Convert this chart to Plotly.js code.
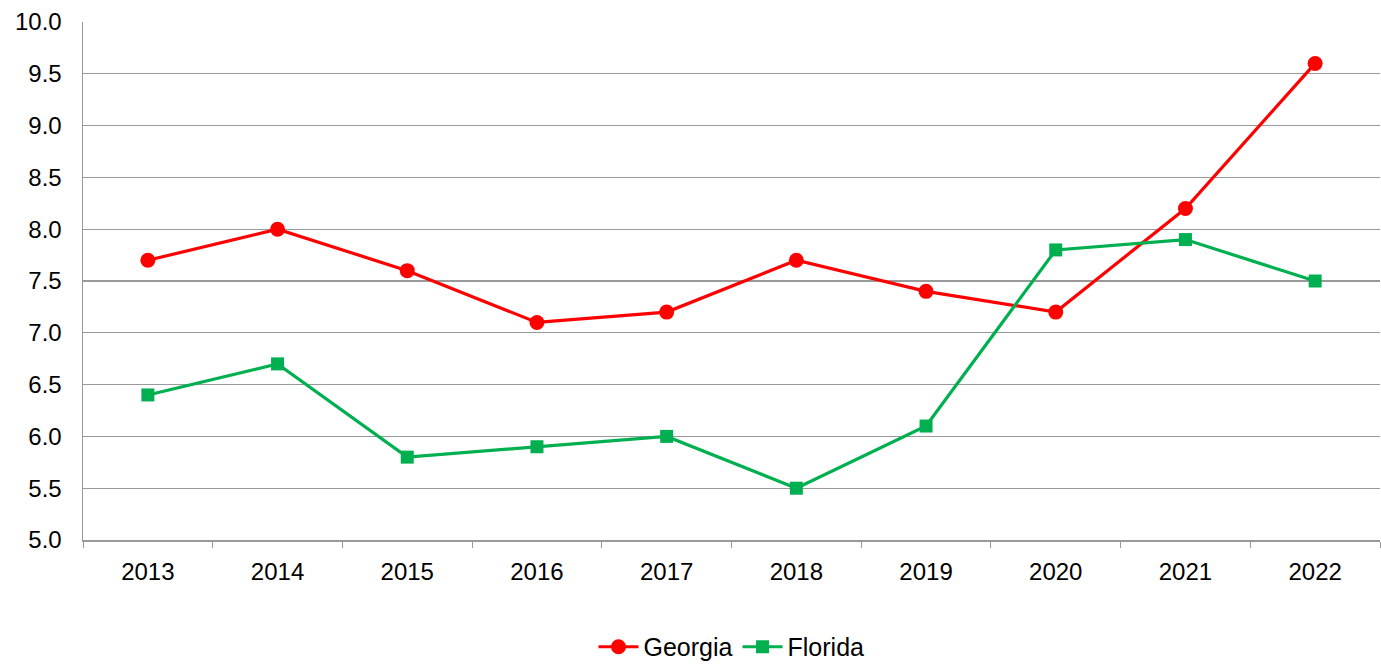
<!DOCTYPE html>
<html>
<head>
<meta charset="utf-8">
<script src="https://cdn.plot.ly/plotly-3.0.1.min.js"></script>
<style>html,body{margin:0;padding:0;background:#fff;}#chart{width:1381px;height:667px;}</style>
</head>
<body>
<div id="chart"></div>
<script>
var years = ["2013","2014","2015","2016","2017","2018","2019","2020","2021","2022"];
var georgia = [7.7, 8.0, 7.6, 7.1, 7.2, 7.7, 7.4, 7.2, 8.2, 9.6];
var florida = [6.4, 6.7, 5.8, 5.9, 6.0, 5.5, 6.1, 7.8, 7.9, 7.5];
var yTicks = [5.0, 5.5, 6.0, 6.5, 7.0, 7.5, 8.0, 8.5, 9.0, 9.5, 10.0];

var traces = [
  {x: years, y: georgia, name: "Georgia", type: "scatter", mode: "lines+markers",
   line: {color: "#FF0000", width: 3.2}, marker: {symbol: "circle", size: 15, color: "#FF0000"}},
  {x: years, y: florida, name: "Florida", type: "scatter", mode: "lines+markers",
   line: {color: "#00B050", width: 3.2}, marker: {symbol: "square", size: 13, color: "#00B050"}}
];

var layout = {
  width: 1381, height: 667,
  margin: {l: 83, r: 1, t: 22, b: 127, autoexpand: false},
  paper_bgcolor: "#fff", plot_bgcolor: "#fff",
  font: {family: "Liberation Sans, Arial, sans-serif", size: 24, color: "#000"},
  showlegend: true,
  legend: {orientation: "h", x: 0.5, xanchor: "center", yref: "container", y: 0.03, yanchor: "middle",
           font: {size: 25, color: "#000"}, itemwidth: 40},
  xaxis: {type: "category", showgrid: false, showline: true, linecolor: "#999", linewidth: 1.5,
          ticks: "outside", tickson: "boundaries", ticklen: 6, tickcolor: "#999", tickwidth: 1,
          tickfont: {size: 24}, range: [-0.5, 9.5], ticklabelstandoff: 10, fixedrange: true},
  yaxis: {range: [5, 10], tickvals: yTicks, ticktext: yTicks.map(function(v){return v.toFixed(1);}),
          showgrid: true, gridcolor: "#999", gridwidth: 1.2, showline: true, linecolor: "#999", linewidth: 1.5,
          ticks: "", zeroline: false, tickfont: {size: 24}, ticklabelstandoff: 15}
};

Plotly.newPlot("chart", traces, layout, {displayModeBar: false, staticPlot: true});
</script>
</body>
</html>
